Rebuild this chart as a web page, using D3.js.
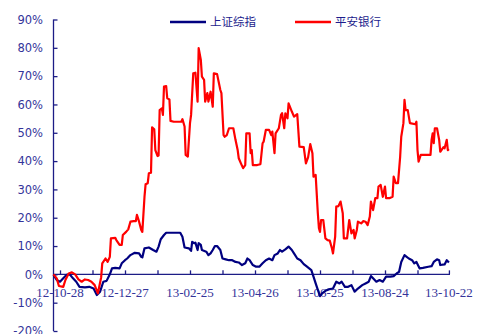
<!DOCTYPE html>
<html>
<head>
<meta charset="utf-8">
<script src="https://cdn.jsdelivr.net/npm/d3@7"></script>
<style>
  html, body { margin: 0; padding: 0; background: #fff; }
  svg { display: block; }
</style>
</head>
<body>
<div id="chart"></div>
<script>
// series names
const seriesNames = ['上证综指', '平安银行'];

// x tick labels (every other tick is labelled)
const xTickLabels = ['12-10-28', '12-12-27', '13-02-25', '13-04-26', '13-06-25', '13-08-24', '13-10-22'];
const yTicks = [-20, -10, 0, 10, 20, 30, 40, 50, 60, 70, 80, 90];

// 上证综指 (cumulative return, %)
const szDates = ['12-10-22','12-10-25','12-10-28','12-10-31','12-11-03','12-11-06','12-11-09','12-11-12','12-11-15','12-11-20',
  '12-11-24','12-11-28','12-12-01','12-12-04','12-12-07','12-12-10','12-12-13','12-12-15','12-12-18','12-12-22',
  '12-12-24','12-12-27','12-12-29','13-01-01','13-01-05','13-01-09','13-01-11','13-01-12','13-01-14','13-01-18',
  '13-01-22','13-01-25','13-01-27','13-01-29','13-02-01','13-02-03','13-02-08','13-02-16','13-02-18','13-02-20',
  '13-02-24','13-02-26','13-02-27','13-03-01','13-03-02','13-03-04','13-03-05','13-03-07','13-03-08','13-03-12',
  '13-03-14','13-03-16','13-03-18','13-03-20','13-03-22','13-03-25','13-03-27','13-03-30','13-04-02','13-04-05',
  '13-04-08','13-04-11','13-04-14','13-04-17','13-04-19','13-04-21','13-04-24','13-04-27','13-04-30','13-05-03',
  '13-05-06','13-05-09','13-05-12','13-05-14','13-05-17','13-05-19','13-05-21','13-05-24','13-05-27','13-05-30',
  '13-06-01','13-06-04','13-06-07','13-06-10','13-06-13','13-06-15','13-06-17','13-06-19','13-06-21','13-06-23',
  '13-06-25','13-06-27','13-06-30','13-07-03','13-07-07','13-07-10','13-07-13','13-07-15','13-07-18','13-07-21',
  '13-07-24','13-07-27','13-07-30','13-08-03','13-08-06','13-08-09','13-08-11','13-08-13','13-08-16','13-08-19',
  '13-08-22','13-08-25','13-08-29','13-09-01','13-09-04','13-09-06','13-09-08','13-09-11','13-09-13','13-09-15',
  '13-09-18','13-09-20','13-09-22','13-09-25','13-09-28','13-10-03','13-10-06','13-10-08','13-10-11','13-10-13',
  '13-10-14','13-10-18','13-10-20','13-10-22'];
const szValues = [-0.2, -2, -2.6, -1.4, -0.2, 0, -1.4, -2.6, -4.4, -4.6,
  -4.4, -5, -7.3, -6.1, -2.6, -2.3, 0, 2.1, 2.3, 2.1,
  3.9, 5, 5.6, 6.8, 7.6, 7.4, 6.2, 6, 9.2, 9.5,
  8.6, 8, 9.8, 12.4, 13.9, 14.7, 14.7, 14.7, 13.3, 9.5,
  9.2, 8.3, 11.5, 11, 11.2, 8.6, 11, 10.4, 8.6, 8,
  6.8, 7.4, 8.6, 10, 10, 8.6, 5.6, 5.3, 5, 5,
  4.4, 4.2, 3.3, 3.9, 5.6, 5, 3.3, 2.7, 2.7, 3.9,
  5, 5.6, 5, 6.8, 7.4, 8.6, 8, 8.8, 9.8, 8.6,
  7.4, 5.6, 5, 3.6, 2.7, 2.1, 1.5, -0.8, -3.2, -5.5,
  -7.7, -6.7, -5.8, -5.3, -5, -2.6, -3.2, -2.6, -4.4, -4.4,
  -3.8, -6.1, -5, -3.8, -3.2, -2.6, -0.6, -1.4, -2.6, -2,
  -2.6, -0.8, -0.8, -0.6, 0.4, 0.9, 4.4, 6.8, 6.2, 5.6,
  5, 3.9, 4.4, 2.1, 2.3, 2.7, 2.9, 4.4, 5.3, 5,
  3.3, 3.5, 5, 4.2];

// 平安银行 (cumulative return, %)
const paDates = ['12-10-22','12-10-25','12-10-27','12-10-31','12-11-02','12-11-05','12-11-08','12-11-11','12-11-14','12-11-17',
  '12-11-20','12-11-23','12-11-26','12-11-29','12-12-02','12-12-05','12-12-06','12-12-09','12-12-11','12-12-13',
  '12-12-14','12-12-18','12-12-19','12-12-22','12-12-24','12-12-25','12-12-28','12-12-30','13-01-01','13-01-04',
  '13-01-06','13-01-07','13-01-09','13-01-11','13-01-12','13-01-14','13-01-15','13-01-17','13-01-18','13-01-20',
  '13-01-21','13-01-23','13-01-24','13-01-26','13-01-27','13-01-28','13-01-30','13-01-31','13-02-01','13-02-03',
  '13-02-04','13-02-06','13-02-07','13-02-10','13-02-17','13-02-18','13-02-20','13-02-21','13-02-23','13-02-25',
  '13-02-26','13-02-28','13-03-02','13-03-04','13-03-05','13-03-07','13-03-08','13-03-10','13-03-11','13-03-13',
  '13-03-14','13-03-16','13-03-18','13-03-19','13-03-22','13-03-25','13-03-26','13-03-28','13-03-29','13-03-31',
  '13-04-02','13-04-06','13-04-08','13-04-10','13-04-11','13-04-13','13-04-15','13-04-17','13-04-18','13-04-21',
  '13-04-22','13-04-23','13-04-24','13-04-28','13-05-01','13-05-03','13-05-04','13-05-06','13-05-09','13-05-11',
  '13-05-12','13-05-14','13-05-15','13-05-18','13-05-20','13-05-21','13-05-23','13-05-24','13-05-26','13-05-27',
  '13-05-30','13-06-01','13-06-04','13-06-06','13-06-10','13-06-12','13-06-14','13-06-16','13-06-18','13-06-19',
  '13-06-21','13-06-23','13-06-24','13-06-25','13-06-26','13-06-28','13-06-30','13-07-02','13-07-04','13-07-06',
  '13-07-07','13-07-09','13-07-10','13-07-12','13-07-14','13-07-16','13-07-17','13-07-20','13-07-22','13-07-24',
  '13-07-26','13-07-27','13-07-29','13-07-30','13-08-02','13-08-04','13-08-06','13-08-08','13-08-10','13-08-11',
  '13-08-13','13-08-15','13-08-17','13-08-18','13-08-20','13-08-22','13-08-24','13-08-25','13-08-28','13-08-31',
  '13-09-01','13-09-03','13-09-05','13-09-07','13-09-08','13-09-10','13-09-11','13-09-12','13-09-14','13-09-16',
  '13-09-21','13-09-22','13-09-23','13-09-24','13-09-26','13-10-05','13-10-06','13-10-07','13-10-08','13-10-09',
  '13-10-11','13-10-13','13-10-14','13-10-17','13-10-18','13-10-20','13-10-21','13-10-22'];
const paValues = [0, -1.4, -4.1, -4.4, -2, 0.3, 0.7, 0, -1.8, -2.6,
  -1.8, -2, -2.6, -3.8, -6.7, -1, 3.9, 5.6, 4.4, 6.2,
  12.7, 12.9, 12.1, 10.4, 10.4, 13.9, 15, 15.9, 18.6, 18.8,
  18.8, 21, 18.6, 15.7, 15, 27.4, 31.8, 32.2, 35.7, 35.9,
  51.9, 51.2, 43.9, 41.8, 42, 58, 58.6, 56.3, 66.3, 66.5,
  62.2, 61.8, 54.2, 53.9, 53.9, 54.8, 52.2, 42.2, 41.6, 53.4,
  56.3, 71, 71.2, 61, 79.9, 75.7, 69.8, 68.7, 61, 64,
  61, 64.5, 59.2, 71, 70.7, 65.1, 64, 49.2, 48.6, 49.2,
  51.6, 51.6, 47.5, 43.9, 41, 39.2, 37.5, 38.6, 49.8, 49.8,
  42.8, 43.9, 38.6, 38.6, 38.9, 46.3, 46.9, 51, 51, 49.2,
  50.4, 42.8, 49.8, 51.6, 56.3, 56.9, 51.6, 56.9, 55.1, 60.4,
  57.5, 55.7, 56.6, 45.1, 44.9, 39.2, 41.3, 46, 42.8, 34.5,
  35.1, 21.6, 16.3, 15, 19.2, 19.2, 12.7, 12.1, 11.9, 9.2,
  7.4, 13.3, 23.9, 24.1, 25.7, 21.6, 12.7, 12.7, 19.2, 14.5,
  15.7, 12.7, 15.7, 18.6, 18, 18.8, 18.6, 17.4, 20.4, 25.7,
  22.7, 26.9, 26.9, 31, 31.6, 27.4, 31, 26.9, 26.9, 27.4,
  34.5, 32.2, 32.2, 41.6, 48.6, 53.4, 61.6, 58, 58, 53.4,
  53, 53.9, 43.9, 39.8, 42.2, 42.2, 47.5, 49.8, 46.3, 51.6,
  51.6, 47.5, 43.3, 44.9, 44.5, 47.5, 43.9, 44.2];

const parse = d3.timeParse('%y-%m-%d');
const width = 486, height = 334;
const axisColor = '#1c1c86';
const labelColor = '#34349a';
const lineColors = ['#000080', '#ff0000'];

const svg = d3.select('#chart').append('svg')
    .attr('width', width)
    .attr('height', height);

const x = d3.scaleTime()
    .domain([parse('12-10-22'), parse('13-10-23')])
    .range([53.5, 450]);

const y = d3.scaleLinear()
    .domain([-20, 90])
    .range([331, 19.5]);

// x ticks: labelled ticks every 60 days plus an unlabelled one in between
const labelDates = xTickLabels.map(parse);
const tickDates = [];
labelDates.forEach((d, i) => {
    tickDates.push(d);
    if (i < labelDates.length - 1) tickDates.push(d3.timeDay.offset(d, 30));
});

// y axis
const yAxis = svg.append('g')
    .attr('transform', 'translate(53.5,0)')
    .call(d3.axisRight(y).tickValues(yTicks).tickSize(4).tickFormat(''));
yAxis.select('.domain').attr('stroke', axisColor).attr('stroke-width', 1.3).attr('d', `M0,${y(-20)}V${y(90)}`);
yAxis.selectAll('.tick line').attr('stroke', axisColor).attr('stroke-width', 1.3);

svg.append('g').selectAll('text')
    .data(yTicks)
    .join('text')
    .attr('x', 43)
    .attr('y', d => y(d))
    .attr('dy', '0.36em')
    .attr('text-anchor', 'end')
    .attr('fill', labelColor)
    .style('font-family', 'DejaVu Sans, Verdana, sans-serif')
    .style('font-size', '11.5px')
    .text(d => d + '%');

// x axis on the 0% line
const xAxis = svg.append('g')
    .attr('transform', `translate(0,${y(0)})`)
    .call(d3.axisTop(x).tickValues(tickDates).tickSize(4).tickFormat(''));
xAxis.select('.domain').attr('stroke', axisColor).attr('stroke-width', 1.3).attr('d', `M53.5,0H450`);
xAxis.selectAll('.tick line').attr('stroke', axisColor).attr('stroke-width', 1.3);

svg.append('g').selectAll('text')
    .data(xTickLabels)
    .join('text')
    .attr('x', d => x(parse(d)))
    .attr('y', y(0) + 23)
    .attr('text-anchor', 'middle')
    .attr('fill', labelColor)
    .style('font-family', 'Liberation Serif, Times New Roman, serif')
    .style('font-size', '13px')
    .text(d => d);

// lines
const line = d3.line()
    .x(d => x(d.date))
    .y(d => y(d.value));

const series = [
    szDates.map((d, i) => ({ date: parse(d), value: szValues[i] })),
    paDates.map((d, i) => ({ date: parse(d), value: paValues[i] }))
];

svg.append('g').selectAll('path')
    .data(series)
    .join('path')
    .attr('fill', 'none')
    .attr('stroke', (d, i) => lineColors[i])
    .attr('stroke-width', 2.2)
    .attr('stroke-linejoin', 'round')
    .attr('d', line);

// legend
const legendX = [170, 295];
const legend = svg.append('g').selectAll('g')
    .data(seriesNames)
    .join('g')
    .attr('transform', (d, i) => `translate(${legendX[i]},22)`);

legend.append('line')
    .attr('x1', 0).attr('x2', 36)
    .attr('stroke', (d, i) => lineColors[i])
    .attr('stroke-width', 2.5);

legend.append('text')
    .attr('x', 40)
    .attr('dy', '0.36em')
    .attr('fill', '#1c1c8c')
    .style('font-family', 'Noto Sans CJK SC, sans-serif')
    .style('font-size', '11.5px')
    .text(d => d);
</script>
</body>
</html>
